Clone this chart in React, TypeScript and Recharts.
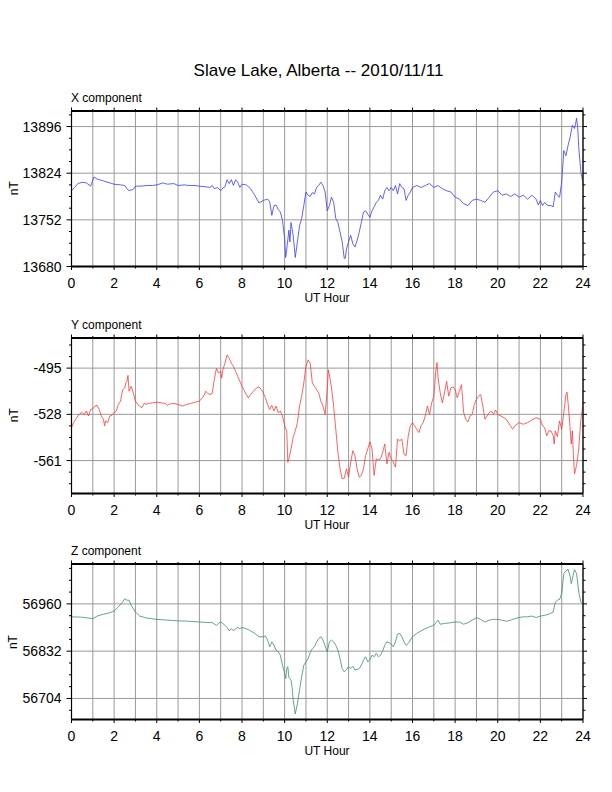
import React from "react";
import { LineChart, Line, XAxis, YAxis, CartesianGrid } from "recharts";

// ---------- data ----------
const xHours = [0,0.15,0.3,0.5,0.7,0.9,1.05,1.2,1.5,1.8,2,2.3,2.5,2.6,2.7,2.9,3,3.3,3.5,3.8,4,4.3,4.5,4.8,5,5.3,5.5,5.8,6,6.3,6.5,6.6,6.7,6.85,7,7.1,7.2,7.3,7.4,7.5,7.6,7.7,7.8,7.9,8,8.2,8.4,8.6,8.8,9,9.2,9.3,9.4,9.5,9.6,9.7,9.8,9.9,10,10.05,10.1,10.2,10.25,10.3,10.4,10.5,10.6,10.7,10.8,10.9,11,11.1,11.2,11.3,11.4,11.5,11.6,11.7,11.8,11.9,12,12.1,12.2,12.3,12.4,12.5,12.6,12.7,12.8,12.85,12.9,13,13.1,13.2,13.3,13.4,13.5,13.6,13.7,13.8,13.9,14,14.1,14.2,14.3,14.4,14.5,14.6,14.7,14.8,14.9,15,15.1,15.2,15.3,15.4,15.5,15.6,15.7,15.8,15.9,16,16.2,16.4,16.6,16.8,17,17.2,17.4,17.6,17.8,18,18.2,18.4,18.6,18.8,19,19.2,19.4,19.6,19.8,20,20.2,20.4,20.6,20.8,21,21.2,21.4,21.6,21.8,21.9,22,22.1,22.2,22.3,22.4,22.5,22.6,22.7,22.8,22.9,23,23.1,23.2,23.3,23.4,23.5,23.6,23.65,23.7,23.75,23.8,23.9,24];
const xValues = [13797,13802,13808,13810,13809,13804,13818,13815,13812,13809,13807,13806,13805,13800,13797,13799,13804,13804,13805,13805,13806,13809,13807,13808,13805,13806,13805,13805,13804,13803,13802,13805,13800,13802,13797,13801,13803,13814,13808,13814,13805,13814,13810,13802,13807,13806,13800,13790,13778,13782,13784,13780,13759,13774,13775,13768,13764,13751,13723,13694,13707,13736,13718,13748,13728,13694,13718,13743,13754,13774,13795,13790,13788,13794,13792,13802,13805,13810,13805,13795,13766,13774,13787,13779,13754,13748,13733,13718,13692,13693,13707,13718,13728,13715,13710,13720,13733,13748,13764,13766,13761,13756,13766,13772,13779,13782,13790,13784,13797,13802,13797,13802,13797,13805,13792,13808,13802,13800,13782,13790,13795,13802,13805,13802,13805,13808,13802,13805,13800,13797,13795,13787,13784,13777,13774,13782,13784,13782,13779,13787,13795,13797,13790,13792,13788,13792,13787,13790,13784,13790,13784,13775,13782,13774,13779,13775,13774,13774,13772,13795,13790,13787,13810,13859,13851,13867,13880,13898,13893,13900,13909,13895,13864,13826,13808];

const yHours = [0,0.1,0.2,0.3,0.4,0.5,0.6,0.7,0.8,0.9,1,1.1,1.2,1.3,1.4,1.5,1.55,1.6,1.7,1.8,1.9,2,2.1,2.2,2.3,2.4,2.5,2.55,2.6,2.65,2.7,2.8,2.9,3,3.1,3.2,3.3,3.4,3.5,3.6,3.8,4,4.2,4.4,4.5,4.6,4.8,5,5.2,5.4,5.6,5.8,6,6.2,6.3,6.4,6.5,6.6,6.7,6.8,6.9,7,7.05,7.1,7.2,7.3,7.4,7.5,7.6,7.7,7.8,7.9,8,8.1,8.2,8.3,8.4,8.5,8.6,8.7,8.8,8.9,9,9.1,9.2,9.3,9.4,9.5,9.6,9.7,9.8,9.9,10,10.1,10.15,10.2,10.3,10.4,10.5,10.6,10.7,10.8,10.9,11,11.1,11.2,11.3,11.4,11.5,11.6,11.7,11.8,11.9,12,12.05,12.1,12.2,12.3,12.4,12.5,12.6,12.7,12.8,12.9,13,13.1,13.2,13.3,13.4,13.5,13.6,13.7,13.8,13.9,14,14.1,14.2,14.3,14.4,14.5,14.6,14.7,14.8,14.9,15,15.1,15.2,15.3,15.4,15.5,15.6,15.7,15.8,15.9,16,16.1,16.2,16.3,16.4,16.5,16.6,16.7,16.8,16.9,17,17.1,17.15,17.2,17.3,17.4,17.5,17.6,17.7,17.8,17.9,18,18.1,18.2,18.3,18.4,18.5,18.6,18.7,18.8,18.9,19,19.1,19.2,19.3,19.4,19.5,19.6,19.7,19.8,19.9,20,20.2,20.4,20.6,20.7,20.8,21,21.2,21.4,21.6,21.8,22,22.1,22.2,22.3,22.4,22.5,22.6,22.65,22.7,22.8,22.9,23,23.1,23.2,23.25,23.3,23.4,23.45,23.5,23.55,23.6,23.7,23.8,23.9,24];
const yValues = [-537.4,-533.9,-531.5,-529.2,-527.3,-526.8,-528.2,-525.6,-529.2,-524.5,-524,-522.1,-521.6,-524.5,-529.2,-531.5,-536.2,-532.7,-533.9,-529.2,-528.7,-526.8,-525.6,-520.9,-518.6,-510.3,-509.1,-505.6,-504.4,-500.2,-511.5,-508,-512.7,-518.6,-520.9,-522.1,-523.3,-520.2,-520.9,-520.2,-519.8,-519.3,-519.8,-520.2,-521.6,-520.7,-520.2,-520.9,-522.1,-520.9,-520.2,-519.3,-518.6,-515,-511.5,-513.2,-513.9,-513.2,-503.3,-495,-498.5,-497.4,-502.1,-496.2,-491.5,-485.6,-487.9,-491.5,-493.8,-497.4,-500.9,-504.4,-508,-510.8,-513.9,-516.2,-513.9,-512.2,-510.3,-509.1,-508.4,-510.3,-512.7,-516.2,-520.9,-524.5,-521.6,-525.6,-522.1,-526.8,-525.6,-529.2,-536.2,-539.8,-562.2,-559.8,-552.7,-544.5,-539.8,-533.9,-522.1,-515,-505.6,-493.8,-489.1,-491.5,-505.6,-508,-510.3,-512.7,-518.6,-522.1,-528,-510.3,-496.2,-499.7,-509.1,-522.1,-538.6,-555.1,-566.9,-574,-573.5,-566.9,-572.8,-562.2,-553.9,-557.5,-566.9,-572.8,-571.6,-566.9,-557.5,-552.7,-547.6,-552.7,-571.6,-559.8,-560.3,-559.8,-555.1,-549.2,-563.4,-555.1,-559.8,-562.2,-565.7,-545.7,-546.9,-545.7,-556.3,-557.5,-543.3,-536.2,-533.9,-536.2,-538.6,-541,-536.2,-533.9,-529.2,-522.1,-528,-519.8,-515,-496.2,-491,-502.1,-512.7,-519.8,-512.7,-504.4,-515,-509.1,-508.4,-510.3,-516.2,-511.5,-506.8,-526.8,-531.5,-533.4,-529.2,-528,-520.9,-517.4,-515,-513.9,-522.1,-531.5,-529.2,-526.8,-525.6,-528,-524.9,-528,-529.6,-531.5,-536.2,-538.6,-536.2,-533.9,-535.1,-533.9,-532,-530.4,-531.5,-536.2,-537.4,-543.3,-539.8,-539.8,-543.3,-549.2,-539.8,-543.8,-532.7,-538.6,-526.8,-513.9,-512.2,-519.8,-538.6,-549.2,-539.8,-557.5,-570.4,-564.5,-552.7,-531.5,-520.9];

const zHours = [0,0.5,1,1.2,1.5,1.8,2,2.2,2.4,2.5,2.6,2.7,2.8,2.9,3,3.2,3.5,4,4.5,5,5.5,6,6.3,6.5,6.6,6.7,6.8,6.9,7,7.1,7.2,7.3,7.4,7.5,7.6,7.7,7.8,7.9,8,8.2,8.4,8.6,8.8,9,9.1,9.2,9.3,9.4,9.5,9.6,9.7,9.8,9.9,10,10.05,10.1,10.15,10.2,10.3,10.35,10.4,10.45,10.5,10.6,10.7,10.8,10.9,11,11.1,11.2,11.3,11.4,11.5,11.6,11.7,11.8,11.9,12,12.1,12.2,12.3,12.4,12.5,12.6,12.7,12.8,12.9,13,13.1,13.2,13.3,13.4,13.5,13.6,13.7,13.8,13.9,14,14.1,14.2,14.3,14.4,14.5,14.6,14.7,14.8,14.9,15,15.1,15.2,15.3,15.4,15.5,15.6,15.7,15.8,15.9,16,16.2,16.4,16.6,16.8,17,17.2,17.3,17.5,17.8,18,18.2,18.4,18.6,18.8,19,19.2,19.4,19.6,19.8,20,20.2,20.4,20.6,20.8,21,21.2,21.4,21.6,21.8,22,22.2,22.4,22.6,22.7,22.8,22.9,23,23.1,23.2,23.3,23.4,23.45,23.5,23.6,23.7,23.8,23.9,24];
const zValues = [56925,56924,56920,56927,56932,56936,56941,56952,56965,56974,56970,56970,56956,56947,56938,56927,56922,56918,56916,56914,56913,56911,56910,56909,56910,56905,56902,56907,56911,56907,56902,56896,56887,56893,56887,56893,56896,56893,56896,56893,56887,56880,56871,56871,56873,56862,56844,56857,56848,56835,56830,56821,56794,56772,56758,56785,56790,56761,56754,56736,56700,56681,56662,56690,56727,56763,56794,56803,56812,56828,56839,56844,56857,56866,56871,56862,56846,56830,56857,56862,56857,56848,56835,56812,56785,56776,56782,56790,56785,56791,56781,56782,56785,56794,56808,56817,56803,56808,56821,56817,56826,56817,56821,56833,56848,56857,56855,56851,56844,56857,56878,56880,56871,56857,56848,56853,56862,56871,56880,56887,56893,56898,56902,56916,56905,56907,56909,56911,56911,56905,56909,56916,56923,56918,56911,56916,56918,56918,56916,56913,56916,56920,56923,56925,56925,56927,56923,56927,56929,56932,56938,56965,56970,56972,56988,57042,57049,57054,57033,57015,57028,57053,57042,56992,56965,56959];

const hourTicks = [0,1,2,3,4,5,6,7,8,9,10,11,12,13,14,15,16,17,18,19,20,21,22,23,24];
const hourLabels = [0,2,4,6,8,10,12,14,16,18,20,22,24];

const xMajor = [13680,13752,13824,13896];
const xTicks = [13680,13698,13716,13734,13752,13770,13788,13806,13824,13842,13860,13878,13896,13914];
const xDomain = [13680, 13920];

const yMajor = [-561,-528,-495];
const yTicks = [-577.5,-569.25,-561,-552.75,-544.5,-536.25,-528,-519.75,-511.5,-503.25,-495,-486.75,-478.5];
const yDomain = [-584.5, -473.5];

const zMajor = [56704,56832,56960];
const zTicks = [56672,56704,56736,56768,56800,56832,56864,56896,56928,56960,56992,57024,57056];
const zDomain = [56647, 57068];

const title = "Slave Lake, Alberta -- 2010/11/11";

const FONT = "'Liberation Sans', Arial, Helvetica, sans-serif";

const zip = (hs: number[], vs: number[]) => hs.map((h, i) => ({ h, v: vs[i] }));

type PanelProps = {
  label: string;
  top: number;
  data: { h: number; v: number }[];
  domain: number[];
  ticks: number[];
  majors: number[];
  color: string;
};

const PLOT_H = 155.5;
const TOP_PAD = 20;
const BOTTOM_AX = 40;

function Panel({ label, top, data, domain, ticks, majors, color }: PanelProps) {
  const LeftTick = (p: any) => {
    const major = majors.includes(p.payload.value);
    return (
      <g>
        <line x1={p.x} x2={p.x - (major ? 5 : 2.5)} y1={p.y} y2={p.y} stroke="#000" strokeWidth={1} />
        {major && (
          <text x={p.x - 10} y={p.y} dy="0.36em" textAnchor="end" fontSize={14} fontFamily={FONT} fill="#000">
            {p.payload.value}
          </text>
        )}
      </g>
    );
  };
  const RightTick = (p: any) => {
    const major = majors.includes(p.payload.value);
    return <line x1={p.x} x2={p.x + (major ? 4 : 2.5)} y1={p.y} y2={p.y} stroke="#000" strokeWidth={1} />;
  };
  const BottomTick = (p: any) => {
    const v = p.payload.value;
    const lab = hourLabels.includes(v);
    return (
      <g>
        <line x1={p.x} x2={p.x} y1={p.y} y2={p.y + (lab ? 3.5 : 2)} stroke="#000" strokeWidth={1} />
        {lab && (
          <text x={p.x} y={p.y + 21} textAnchor="middle" fontSize={14} fontFamily={FONT} fill="#000">
            {v}
          </text>
        )}
      </g>
    );
  };
  const TopTick = (p: any) => {
    const v = p.payload.value;
    const lab = hourLabels.includes(v);
    return <line x1={p.x} x2={p.x} y1={p.y} y2={p.y - (lab ? 3.5 : 2)} stroke="#000" strokeWidth={1} />;
  };

  const H = TOP_PAD + PLOT_H + BOTTOM_AX;
  const mid = top + PLOT_H / 2;
  return (
    <>
      <div style={{ position: "absolute", left: 0, top: top - TOP_PAD, width: 612, height: H }}>
        <LineChart width={612} height={H} data={data} margin={{ top: 0, right: 0, bottom: 0, left: 0 }}>
          <CartesianGrid
            xAxisId="b"
            yAxisId="l"
            stroke="#9a9a9a"
            strokeWidth={1}
            horizontalValues={majors}
            verticalValues={hourTicks}
          />
          <XAxis
            xAxisId="b"
            dataKey="h"
            type="number"
            domain={[0, 24]}
            ticks={hourTicks}
            interval={0}
            height={BOTTOM_AX}
            tickSize={0}
            tickMargin={0}
            tickLine={false}
            tick={BottomTick}
            axisLine={{ stroke: "#000", strokeWidth: 2 }}
            allowDataOverflow
          />
          <XAxis
            xAxisId="t"
            orientation="top"
            dataKey="h"
            type="number"
            domain={[0, 24]}
            ticks={hourTicks}
            interval={0}
            height={TOP_PAD}
            tickSize={0}
            tickMargin={0}
            tickLine={false}
            tick={TopTick}
            axisLine={{ stroke: "#000", strokeWidth: 2 }}
            allowDataOverflow
          />
          <YAxis
            yAxisId="l"
            type="number"
            domain={domain}
            ticks={ticks}
            interval={0}
            width={71.5}
            tickSize={0}
            tickMargin={0}
            tickLine={false}
            tick={LeftTick}
            axisLine={{ stroke: "#000", strokeWidth: 1.2 }}
            allowDataOverflow
          />
          <YAxis
            yAxisId="r"
            orientation="right"
            type="number"
            domain={domain}
            ticks={ticks}
            interval={0}
            width={29}
            tickSize={0}
            tickMargin={0}
            tickLine={false}
            tick={RightTick}
            axisLine={{ stroke: "#222", strokeWidth: 1.5 }}
            allowDataOverflow
          />
          <Line
            xAxisId="b"
            yAxisId="l"
            dataKey="v"
            type="linear"
            stroke={color}
            strokeWidth={0.8}
            dot={false}
            isAnimationActive={false}
          />
        </LineChart>
      </div>
      <svg
        width={612}
        height={792}
        style={{ position: "absolute", left: 0, top: 0, pointerEvents: "none" }}
      >
        <text x={71} y={top - 9} fontSize={12} fontFamily={FONT} fill="#000">
          {label}
        </text>
        <text
          x={17.5}
          y={mid}
          fontSize={12}
          fontFamily={FONT}
          fill="#000"
          textAnchor="middle"
          transform={`rotate(-90, 17.5, ${mid})`}
        >
          nT
        </text>
        <text x={327} y={top + PLOT_H + 35.5} fontSize={12} fontFamily={FONT} fill="#000" textAnchor="middle">
          UT Hour
        </text>
      </svg>
    </>
  );
}

export default function App() {
  return (
    <div style={{ position: "absolute", left: 0, top: 0, width: 612, height: 792, background: "#fff", fontFamily: FONT }}>
      <svg width={612} height={792} style={{ position: "absolute", left: 0, top: 0 }}>
        <text x={318.5} y={76} fontSize={17} fontFamily={FONT} textAnchor="middle" fill="#000">
          {title}
        </text>
      </svg>
      <Panel label="X component" top={110.5} data={zip(xHours, xValues)} domain={xDomain} ticks={xTicks} majors={xMajor} color="#3a3aff" />
      <Panel label="Y component" top={337.5} data={zip(yHours, yValues)} domain={yDomain} ticks={yTicks} majors={yMajor} color="#ff3a3a" />
      <Panel label="Z component" top={564.3} data={zip(zHours, zValues)} domain={zDomain} ticks={zTicks} majors={zMajor} color="#3d8f63" />
    </div>
  );
}
